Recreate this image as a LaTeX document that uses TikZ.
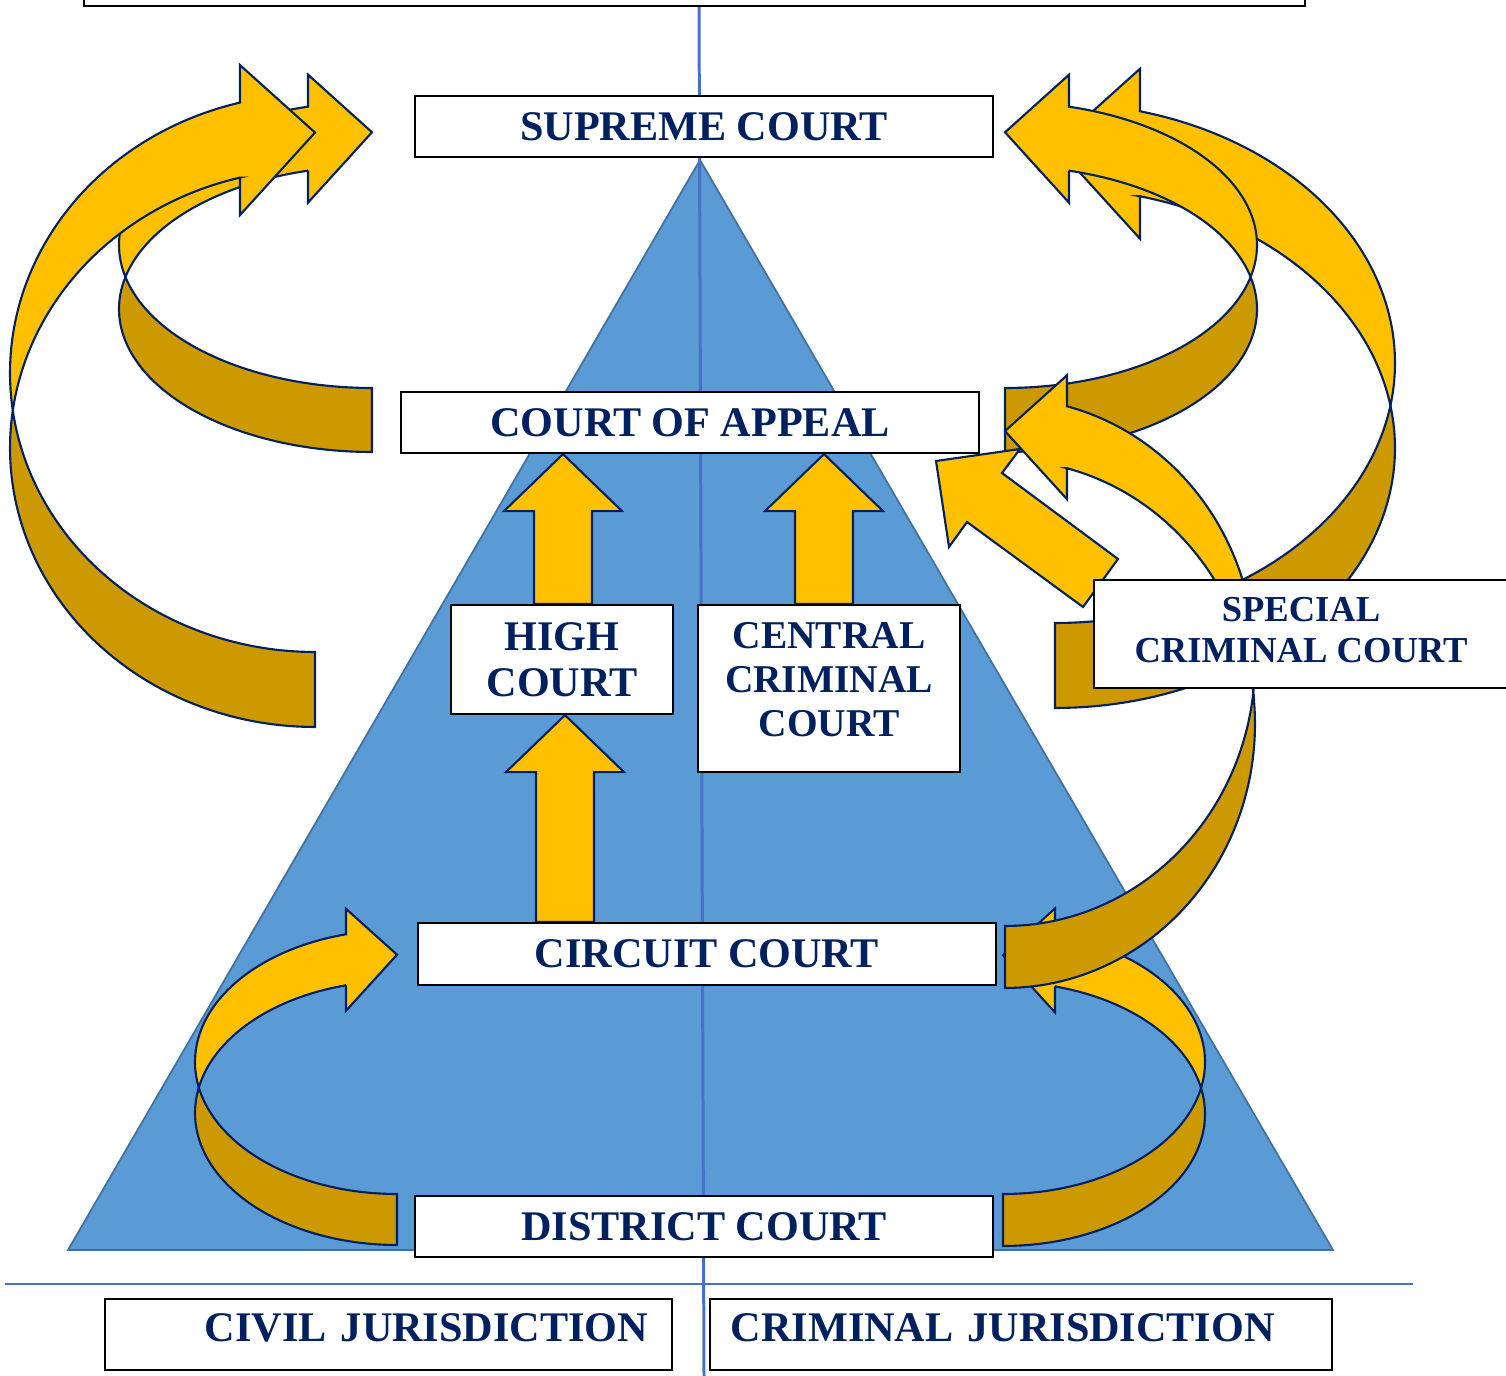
\documentclass[tikz,border=0pt]{standalone}
\usepackage{fontspec}
\setmainfont{Liberation Serif}
\usetikzlibrary{calc}

\definecolor{courtblue}{HTML}{002060}
\definecolor{gold}{HTML}{FFC000}
\definecolor{darkgold}{HTML}{CC9900}
\definecolor{pyramid}{HTML}{5B9BD5}
\definecolor{pyramidedge}{HTML}{41719C}
\definecolor{divider}{HTML}{4472C4}

\pgfdeclarelayer{back}
\pgfdeclarelayer{flow}
\pgfsetlayers{back,flow,main}

\tikzset{
  court/.style={draw=black, line width=0.6pt, fill=white, text=courtblue, inner sep=0pt,
    align=center, font=\bfseries\fontsize{12}{13.1}\selectfont},
  courttext/.style={text=courtblue, inner sep=0pt, align=center, font=\bfseries\fontsize{12}{13.1}\selectfont},
  frontband/.style={fill=gold, draw=courtblue, line width=0.6pt},
  backband/.style={fill=darkgold, draw=courtblue, line width=0.6pt}
}

% straight block arrow: centre x, tail anchor, tip anchor
\newcommand{\riseblock}[3]{%
  \coordinate (rb tail) at (#1,0 |- #2);
  \coordinate (rb tip) at (#1,0 |- #3);
  \draw[frontband] ($(rb tail)+(-29,0)$) -- ($(rb tip)+(-29,57)$) -- ($(rb tip)+(-59,57)$) -- (rb tip)
    -- ($(rb tip)+(59,57)$) -- ($(rb tip)+(29,57)$) -- ($(rb tail)+(29,0)$) -- cycle;}

% curved arrow: centre x, centre y, x radius, y radius, band, side (1 bulges left, -1 bulges right)
\newcommand{\bentarrow}[6]{%
  \pgfmathsetmacro\bendcross{asin(#5/(2*#4))}
  \pgfmathsetmacro\bendlo{180-\bendcross}
  \pgfmathsetmacro\bendhi{180+\bendcross}
  \pgfmathsetmacro\bendhead{360-acos(-#5/#3)}
  \pgfmathsetmacro\bendtop{#2+#4*sin(\bendhead)}
  \filldraw[backband] plot[domain=90:\bendhi, samples=60] ({#1+(#6)*#3*cos(\x)},{#2+#5+#4*sin(\x)})
    -- plot[domain=\bendlo:90, samples=60] ({#1+(#6)*#3*cos(\x)},{#2+#4*sin(\x)}) -- cycle;
  \filldraw[frontband] plot[domain=\bendlo:\bendhead, samples=60] ({#1+(#6)*#3*cos(\x)},{#2+#4*sin(\x)})
    -- ({#1-(#6)*#5},{\bendtop-0.5*#5}) -- ({#1},{\bendtop+0.4*#5})
    -- ({#1-(#6)*#5},{\bendtop+1.5*#5}) -- ({#1-(#6)*#5},{\bendtop+#5})
    -- plot[domain=\bendhead:\bendhi, samples=60] ({#1+(#6)*#3*cos(\x)},{#2+#5+#4*sin(\x)}) -- cycle;}

\begin{document}
\begin{tikzpicture}[x=0.01cm, y=-0.01cm]
  \useasboundingbox (0,0) rectangle (1506,1376);

  \node[court, minimum width=12.21cm, minimum height=0.4cm] (banner) at (694.5,-14) {};
  \node[court, minimum width=5.78cm, minimum height=0.61cm] (supreme) at (704,126.5) {SUPREME COURT};
  \node[court, minimum width=5.78cm, minimum height=0.61cm] (appeal) at (690,422.5) {COURT OF APPEAL};
  \node[court, minimum width=2.22cm, minimum height=1.09cm] (high) at (562,659.5) {HIGH\\COURT};
  \node[court, minimum width=2.62cm, minimum height=1.67cm,
    label={[courttext, yshift=0.085cm, font=\bfseries\fontsize{11.2}{12.5}\selectfont]center:CENTRAL\\CRIMINAL\\COURT}]
    (central) at (829,688.5) {};
  \node[court, minimum width=4.14cm, minimum height=1.08cm,
    label={[courttext, yshift=0.04cm, font=\bfseries\fontsize{10.4}{11.9}\selectfont]center:SPECIAL\\CRIMINAL COURT}]
    (special) at (1301,634) {};
  \node[court, minimum width=5.78cm, minimum height=0.62cm] (circuit) at (707,954) {CIRCUIT COURT};
  \node[court, minimum width=5.78cm, minimum height=0.61cm] (district) at (704,1226.5) {DISTRICT COURT};
  \node[court, minimum width=5.67cm, minimum height=0.71cm,
    label={[courttext, yshift=0.065cm, text width=5.19cm, align=right]center:CIVIL JURISDICTION}]
    (civil) at (388.5,1334.5) {};
  \node[court, minimum width=6.22cm, minimum height=0.71cm,
    label={[courttext, yshift=0.065cm, text width=5.80cm, align=left]center:CRIMINAL JURISDICTION}]
    (criminal) at (1021,1334.5) {};

  \begin{pgfonlayer}{back}
    \filldraw[fill=pyramid, draw=pyramidedge, line width=0.5pt] (700,160) -- (1333,1250) -- (68,1250) -- cycle;
    \draw[divider, line width=0.85pt] (699,6) -- (704,1376);
    \draw[divider, line width=0.45pt] (5,1284) -- (1413,1284);
  \end{pgfonlayer}

  \begin{pgfonlayer}{flow}
    \bentarrow{372}{245}{253}{143}{64}{1}
    \bentarrow{315}{373}{305}{279}{75}{1}
    \bentarrow{1055}{363}{340}{260}{85}{-1}
    \bentarrow{1005}{245}{252}{143}{64}{-1}
    \draw[frontband] (936,461) -- (1020,449) -- (1002,473) -- (1118,559) -- (1083,607) -- (967,522) -- (949,547) -- cycle;
    \bentarrow{397}{1062}{202}{132}{51}{1}
    \bentarrow{1003}{1062}{202}{132}{52}{-1}
    \bentarrow{1005}{662}{250}{264}{62}{-1}
    \riseblock{565}{circuit.north}{high.south}
    \riseblock{563}{high.north}{appeal.south}
    \riseblock{824}{central.north}{appeal.south}
  \end{pgfonlayer}
\end{tikzpicture}
\end{document}
